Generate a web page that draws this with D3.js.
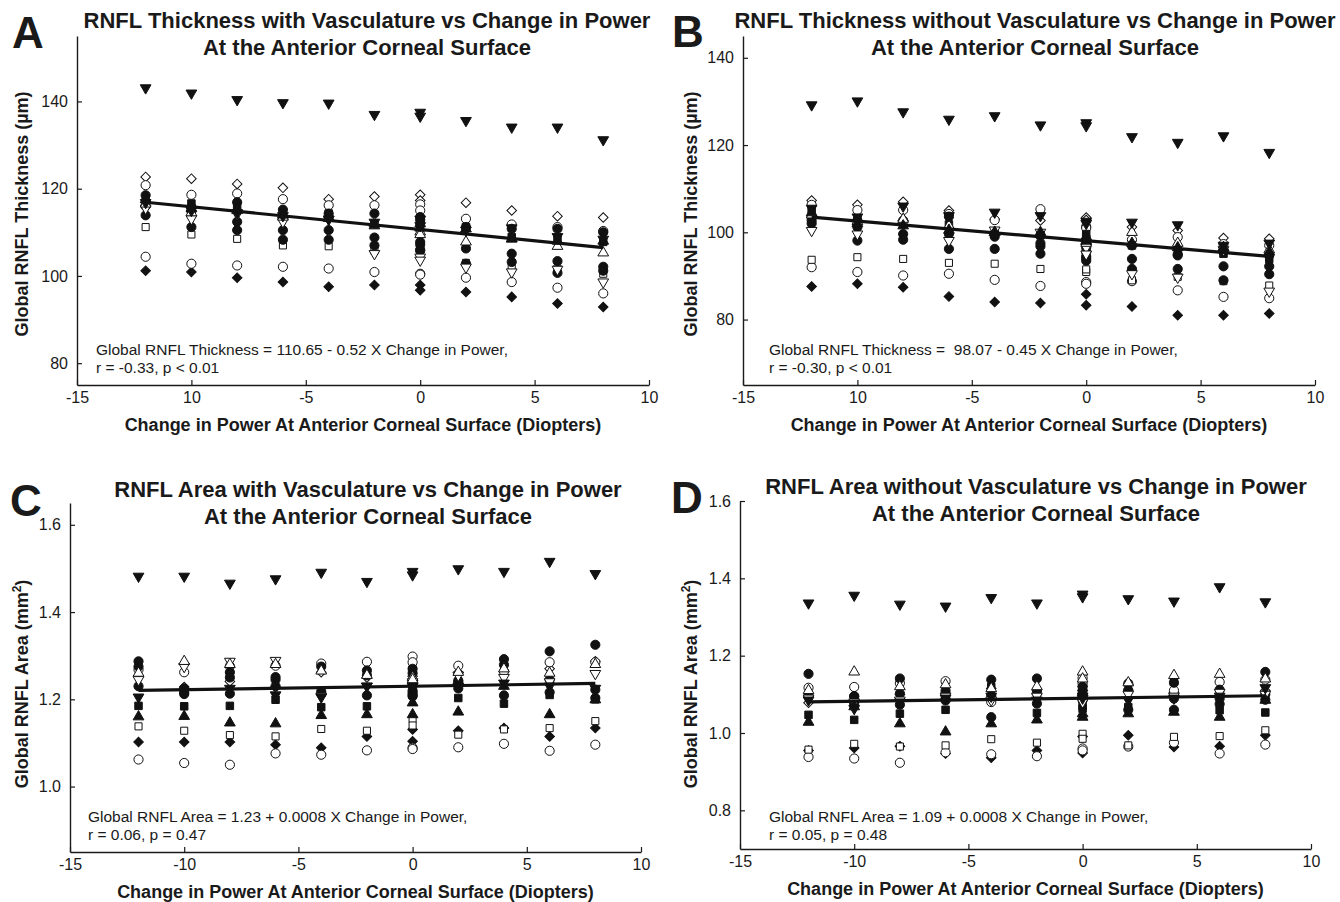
<!DOCTYPE html>
<html>
<head>
<meta charset="utf-8">
<script src="https://cdn.jsdelivr.net/npm/d3@7"></script>
<style>
  body { margin: 0; background: #fff; }
  svg { display: block; }
</style>
</head>
<body>
<div id="chart"></div>
<script>
// Change in power steps (baseline 0 was measured twice)
const xPower = [-12, -10, -8, -6, -4, -2, 0, 0, 2, 4, 6, 8];

// one marker per subject (same subject order in every panel)
// tdf/tdo = triangle down filled/open, tuf/tuo = triangle up, cf/co = circle, sf/so = square, df/do = diamond
const subjectMarker = ["tdf", "df", "co", "do", "co", "so", "cf", "cf", "cf", "sf", "tdo", "tuo", "tuf", "tdf"];

// A: global RNFL thickness with vasculature (um)
const thicknessWithVasc = [
  [143.1, 141.9, 140.4, 139.7, 139.6, 137.0, 137.5, 136.6, 135.6, 134.1, 134.1, 131.2],
  [101.2, 100.9, 99.6, 98.6, 97.5, 97.9, 97.9, 96.7, 96.3, 95.2, 93.7, 92.9],
  [104.4, 102.8, 102.4, 102.1, 101.7, 100.9, 100.5, 100.3, 99.6, 98.6, 97.3, 96.0],
  [122.7, 122.3, 121.1, 120.2, 117.6, 118.2, 118.6, 117.3, 116.8, 115.0, 113.7, 113.4],
  [120.8, 118.6, 118.9, 117.6, 116.2, 116.2, 116.4, 115.0, 113.1, 111.8, 111.2, 110.3],
  [111.2, 109.5, 108.5, 107.0, 106.8, 105.8, 106.5, 106.0, 103.0, 102.0, 101.7, 100.5],
  [118.5, 115.8, 116.9, 115.2, 114.3, 114.3, 113.5, 112.8, 111.2, 110.8, 110.8, 110.0],
  [116.0, 111.2, 112.4, 110.5, 110.5, 108.8, 107.8, 107.2, 106.3, 105.1, 103.4, 102.1],
  [113.9, 114.8, 110.5, 108.3, 108.3, 107.0, 106.0, 105.8, 102.8, 103.2, 100.7, 101.2],
  [117.0, 116.6, 115.5, 114.5, 114.3, 112.0, 112.5, 111.8, 111.2, 108.9, 108.5, 107.8],
  [115.5, 113.1, 114.2, 112.4, 113.0, 105.1, 104.3, 103.6, 102.0, 100.9, 101.5, 98.6],
  [116.5, 114.5, 115.0, 113.5, 113.2, 112.0, 110.1, 109.5, 107.8, 108.5, 106.8, 105.3],
  [117.5, 115.5, 115.3, 114.0, 113.5, 111.5, 112.0, 111.0, 110.8, 108.5, 108.0, 108.0],
  [116.8, 115.0, 114.5, 113.8, 113.0, 112.3, 113.0, 111.5, 110.5, 111.0, 109.0, 108.4]
];

// B: global RNFL thickness without vasculature (um)
const thicknessNoVasc = [
  [129.2, 130.1, 127.6, 125.9, 126.7, 124.6, 125.1, 124.4, 121.9, 120.6, 122.1, 118.3],
  [87.6, 88.2, 87.4, 85.3, 84.0, 83.8, 85.8, 83.3, 83.0, 81.0, 81.0, 81.4],
  [92.0, 90.9, 90.1, 90.5, 89.1, 87.7, 88.6, 88.2, 88.8, 86.7, 85.2, 84.9],
  [107.3, 106.3, 107.0, 105.0, 103.0, 102.7, 103.4, 102.8, 101.2, 100.4, 98.7, 98.5],
  [106.3, 105.1, 105.1, 104.2, 102.8, 105.3, 101.3, 101.0, 98.3, 98.9, 97.3, 97.0],
  [93.7, 94.3, 93.9, 93.0, 92.8, 91.6, 90.9, 91.5, 89.0, 89.8, 88.8, 87.8],
  [102.7, 102.7, 102.7, 103.6, 99.6, 96.8, 97.3, 96.5, 93.9, 94.7, 95.5, 94.7],
  [102.0, 101.2, 99.6, 99.6, 96.2, 95.1, 95.5, 94.0, 91.6, 91.6, 92.2, 92.2],
  [103.5, 98.1, 98.3, 96.2, 99.0, 97.5, 93.5, 94.5, 97.0, 95.0, 89.0, 90.4],
  [105.1, 103.0, 101.9, 101.8, 99.6, 99.3, 99.6, 98.5, 97.0, 96.5, 95.1, 93.9],
  [100.4, 99.6, 102.0, 98.1, 100.5, 100.0, 96.5, 95.0, 90.5, 89.7, 96.0, 86.5],
  [104.0, 102.5, 103.0, 101.5, 100.0, 99.5, 98.5, 97.5, 100.0, 97.5, 96.5, 96.0],
  [104.5, 102.0, 101.5, 100.5, 100.0, 100.0, 99.0, 98.0, 97.5, 96.5, 96.5, 95.5],
  [105.5, 103.5, 106.0, 103.8, 104.6, 103.8, 102.5, 102.0, 102.3, 101.7, 97.0, 97.5]
];

// C: global RNFL area with vasculature (mm2)
const areaWithVasc = [
  [1.482, 1.482, 1.466, 1.476, 1.491, 1.470, 1.493, 1.485, 1.499, 1.493, 1.516, 1.488],
  [1.102, 1.102, 1.102, 1.096, 1.089, 1.115, 1.131, 1.104, 1.128, 1.134, 1.115, 1.134],
  [1.062, 1.054, 1.050, 1.076, 1.073, 1.083, 1.089, 1.086, 1.090, 1.098, 1.082, 1.096],
  [1.253, 1.228, 1.241, 1.228, 1.262, 1.250, 1.253, 1.240, 1.262, 1.264, 1.270, 1.287],
  [1.268, 1.262, 1.276, 1.277, 1.282, 1.286, 1.298, 1.285, 1.277, 1.264, 1.285, 1.285],
  [1.138, 1.128, 1.118, 1.115, 1.132, 1.128, 1.155, 1.140, 1.119, 1.131, 1.134, 1.150],
  [1.287, 1.215, 1.262, 1.251, 1.275, 1.266, 1.270, 1.260, 1.243, 1.292, 1.310, 1.325],
  [1.230, 1.225, 1.213, 1.245, 1.218, 1.209, 1.207, 1.215, 1.240, 1.279, 1.245, 1.203],
  [1.275, 1.212, 1.250, 1.230, 1.212, 1.255, 1.220, 1.210, 1.225, 1.209, 1.216, 1.222],
  [1.185, 1.184, 1.185, 1.199, 1.182, 1.184, 1.268, 1.210, 1.203, 1.190, 1.210, 1.200],
  [1.245, 1.275, 1.287, 1.289, 1.207, 1.230, 1.240, 1.230, 1.255, 1.250, 1.240, 1.259],
  [1.260, 1.287, 1.280, 1.280, 1.265, 1.255, 1.250, 1.245, 1.262, 1.270, 1.260, 1.280],
  [1.160, 1.161, 1.146, 1.144, 1.163, 1.165, 1.192, 1.165, 1.171, 1.230, 1.165, 1.199],
  [1.205, 1.215, 1.225, 1.210, 1.205, 1.230, 1.225, 1.230, 1.230, 1.237, 1.230, 1.225]
];

// D: global RNFL area without vasculature (mm2)
const areaNoVasc = [
  [1.336, 1.356, 1.333, 1.328, 1.350, 1.336, 1.359, 1.352, 1.347, 1.341, 1.378, 1.339],
  [0.955, 0.961, 0.966, 0.947, 0.936, 0.955, 0.991, 0.948, 0.994, 0.964, 0.966, 0.994],
  [0.938, 0.934, 0.923, 0.950, 0.945, 0.940, 0.960, 0.955, 0.965, 0.975, 0.947, 0.970],
  [1.078, 1.085, 1.100, 1.090, 1.115, 1.100, 1.120, 1.110, 1.125, 1.105, 1.095, 1.110],
  [1.117, 1.119, 1.129, 1.134, 1.080, 1.110, 1.142, 1.128, 1.110, 1.110, 1.132, 1.138],
  [0.957, 0.972, 0.965, 0.968, 0.984, 0.975, 0.998, 0.985, 0.968, 0.990, 0.992, 1.007],
  [1.153, 1.095, 1.141, 1.109, 1.138, 1.141, 1.110, 1.120, 1.128, 1.130, 1.112, 1.158],
  [1.095, 1.075, 1.102, 1.100, 1.097, 1.076, 1.089, 1.095, 1.060, 1.060, 1.075, 1.086],
  [1.095, 1.095, 1.073, 1.084, 1.041, 1.110, 1.100, 1.085, 1.110, 1.089, 1.089, 1.100],
  [1.047, 1.034, 1.050, 1.060, 1.119, 1.052, 1.063, 1.070, 1.067, 1.132, 1.059, 1.053],
  [1.090, 1.080, 1.085, 1.095, 1.085, 1.095, 1.090, 1.080, 1.100, 1.095, 1.105, 1.100],
  [1.110, 1.158, 1.120, 1.125, 1.115, 1.120, 1.158, 1.140, 1.130, 1.149, 1.152, 1.140],
  [1.028, 1.068, 1.024, 1.003, 1.024, 1.034, 1.041, 1.050, 1.050, 1.054, 1.041, 1.085],
  [1.085, 1.063, 1.080, 1.090, 1.095, 1.085, 1.095, 1.090, 1.085, 1.090, 1.095, 1.117]
];

// regression fits (intercept + slope * change in power), drawn from -12 to 8
const fitIntercept = [110.65, 98.07, 1.23, 1.09];
const fitSlope = [-0.52, -0.45, 0.0008, 0.0008];
const fitRange = [-12, 8];

const panelLetters = ["A", "B", "C", "D"];
const titleLine1 = [
  "RNFL Thickness with Vasculature vs Change in Power",
  "RNFL Thickness without Vasculature vs Change in Power",
  "RNFL Area with Vasculature vs Change in Power",
  "RNFL Area without Vasculature vs Change in Power"
];
const titleLine2 = "At the Anterior Corneal Surface";
const xAxisTitle = "Change in Power At Anterior Corneal Surface (Diopters)";
const equationText = [
  "Global RNFL Thickness = 110.65 - 0.52 X Change in Power,",
  "Global RNFL Thickness =  98.07 - 0.45 X Change in Power,",
  "Global RNFL Area = 1.23 + 0.0008 X Change in Power,",
  "Global RNFL Area = 1.09 + 0.0008 X Change in Power,"
];
const statsText = ["r = -0.33, p < 0.01", "r = -0.30, p < 0.01", "r = 0.06, p = 0.47", "r = 0.05, p = 0.48"];

const xTicks = [-15, -10, -5, 0, 5, 10];
const xTickLabelsTop = ["-15", "10", "-5", "0", "5", "10"];   // as printed in A and B
const xTickLabelsBottom = ["-15", "-10", "-5", "0", "5", "10"];
const yTicksThickness = [80, 100, 120, 140];
const yTicksAreaC = [1.0, 1.2, 1.4, 1.6];
const yTicksAreaD = [0.8, 1.0, 1.2, 1.4, 1.6];
const yDomains = [[75, 155], [65, 145], [0.85, 1.65], [0.7, 1.6]];

const narrow = "'Liberation Sans Narrow', 'Arial Narrow', 'Liberation Sans', Arial, sans-serif";
const wide = "'Liberation Sans', Arial, sans-serif";

const svg = d3.select("#chart")
  .append("svg")
  .attr("width", 1340)
  .attr("height", 902);

// layout for each panel
const panels = [
  {values: thicknessWithVasc, left: 77, right: 649, top: 36, bottom: 385, letterX: 12, letterY: 48,
   titleX: 367, titleY: 28, yTitleX: 28, yTitleY: 214, noteX: 96, noteY: 355,
   yTicks: yTicksThickness, yFmt: d3.format("d"), xLabels: xTickLabelsTop, unit: "µm"},
  {values: thicknessNoVasc, left: 743, right: 1315, top: 36, bottom: 385, letterX: 672, letterY: 47,
   titleX: 1035, titleY: 28, yTitleX: 697, yTitleY: 214, noteX: 769, noteY: 355,
   yTicks: yTicksThickness, yFmt: d3.format("d"), xLabels: xTickLabelsTop, unit: "µm"},
  {values: areaWithVasc, left: 70, right: 641, top: 503, bottom: 852, letterX: 10, letterY: 516,
   titleX: 368, titleY: 497, yTitleX: 28, yTitleY: 684, noteX: 88, noteY: 822,
   yTicks: yTicksAreaC, yFmt: d3.format(".1f"), xLabels: xTickLabelsBottom, unit: "mm"},
  {values: areaNoVasc, left: 740, right: 1311, top: 501, bottom: 849, letterX: 671, letterY: 513,
   titleX: 1036, titleY: 494, yTitleX: 697, yTitleY: 684, noteX: 769, noteY: 822,
   yTicks: yTicksAreaD, yFmt: d3.format(".1f"), xLabels: xTickLabelsBottom, unit: "mm"}
];

// marker shapes
const markerStyle = {
  tdf: {type: d3.symbolTriangle, size: 50, rot: 180, filled: true},
  tdo: {type: d3.symbolTriangle, size: 50, rot: 180, filled: false},
  tuf: {type: d3.symbolTriangle, size: 50, rot: 0, filled: true},
  tuo: {type: d3.symbolTriangle, size: 50, rot: 0, filled: false},
  cf: {type: d3.symbolCircle, size: 66, rot: 0, filled: true},
  co: {type: d3.symbolCircle, size: 66, rot: 0, filled: false},
  sf: {type: d3.symbolSquare, size: 56, rot: 0, filled: true},
  so: {type: d3.symbolSquare, size: 50, rot: 0, filled: false},
  df: {type: d3.symbolSquare, size: 46, rot: 45, filled: true},
  do: {type: d3.symbolSquare, size: 46, rot: 45, filled: false}
};

panels.forEach((p, i) => drawPanel(p, i));

function drawPanel(p, i) {
  const g = svg.append("g");

  const xScale = d3.scaleLinear().domain([-15, 10]).range([p.left, p.right]);
  const yScale = d3.scaleLinear().domain(yDomains[i]).range([p.bottom, p.top]);

  // axes with inward ticks
  const xAxis = d3.axisBottom(xScale)
    .tickValues(xTicks)
    .tickFormat((d, k) => p.xLabels[k])
    .tickSizeInner(-5).tickSizeOuter(0).tickPadding(7);
  const yAxis = d3.axisLeft(yScale)
    .tickValues(p.yTicks)
    .tickFormat(p.yFmt)
    .tickSizeInner(-5).tickSizeOuter(0).tickPadding(9);

  const gx = g.append("g")
    .attr("transform", `translate(0,${p.bottom})`)
    .call(xAxis);
  const gy = g.append("g")
    .attr("transform", `translate(${p.left},0)`)
    .call(yAxis);

  [gx, gy].forEach(a => {
    a.select(".domain").attr("stroke", "#1a1a1a").attr("stroke-width", 1.4);
    a.selectAll(".tick line").attr("stroke", "#1a1a1a").attr("stroke-width", 1.2);
    a.selectAll(".tick text")
      .attr("font-family", narrow)
      .attr("font-size", 16)
      .attr("fill", "#1a1a1a");
  });

  // scatter
  p.values.forEach((series, s) => {
    const st = markerStyle[subjectMarker[s]];
    const sym = d3.symbol().type(st.type).size(st.size);
    g.append("g")
      .selectAll("path")
      .data(series)
      .join("path")
      .attr("d", sym)
      .attr("transform", (d, k) => `translate(${xScale(xPower[k])},${yScale(d)}) rotate(${st.rot})`)
      .attr("fill", st.filled ? "#111" : "#fff")
      .attr("stroke", "#111")
      .attr("stroke-width", 1);
  });

  // regression line
  const fit = d3.line()
    .x(d => xScale(d))
    .y(d => yScale(fitIntercept[i] + fitSlope[i] * d));
  g.append("path")
    .datum(fitRange)
    .attr("d", fit)
    .attr("fill", "none")
    .attr("stroke", "#111")
    .attr("stroke-width", 3.2);

  // panel letter
  g.append("text")
    .attr("x", p.letterX)
    .attr("y", p.letterY)
    .attr("font-family", wide)
    .attr("font-weight", "bold")
    .attr("font-size", 44)
    .attr("fill", "#1a1a1a")
    .text(panelLetters[i]);

  // title
  const title = g.append("text")
    .attr("text-anchor", "middle")
    .attr("font-family", narrow)
    .attr("font-weight", "bold")
    .attr("font-size", 22)
    .attr("fill", "#1a1a1a");
  title.append("tspan").attr("x", p.titleX).attr("y", p.titleY).text(titleLine1[i]);
  title.append("tspan").attr("x", p.titleX).attr("y", p.titleY + 27).text(titleLine2);

  // x axis title
  g.append("text")
    .attr("x", (p.left + p.right) / 2)
    .attr("y", p.bottom + 46)
    .attr("text-anchor", "middle")
    .attr("font-family", narrow)
    .attr("font-weight", "bold")
    .attr("font-size", 18)
    .attr("fill", "#1a1a1a")
    .text(xAxisTitle);

  // y axis title
  const yt = g.append("text")
    .attr("transform", `translate(${p.yTitleX},${p.yTitleY}) rotate(-90)`)
    .attr("text-anchor", "middle")
    .attr("font-family", narrow)
    .attr("font-weight", "bold")
    .attr("font-size", 18)
    .attr("fill", "#1a1a1a");
  if (p.unit === "mm") {
    yt.append("tspan").text("Global RNFL Area (mm");
    yt.append("tspan").attr("font-size", 12).attr("dy", -7).text("2");
    yt.append("tspan").attr("dy", 7).text(")");
  } else {
    yt.text("Global RNFL Thickness (µm)");
  }

  // equation note
  const note = g.append("text")
    .attr("font-family", narrow)
    .attr("font-size", 15.5)
    .attr("fill", "#1a1a1a")
    .attr("xml:space", "preserve")
    .style("white-space", "pre");
  note.append("tspan").attr("x", p.noteX).attr("y", p.noteY).text(equationText[i]);
  note.append("tspan").attr("x", p.noteX).attr("y", p.noteY + 18).text(statsText[i]);
}
</script>
</body>
</html>
